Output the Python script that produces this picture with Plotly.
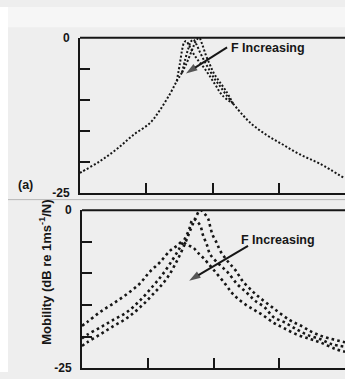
import plotly.graph_objects as go

# ---------------- data ----------------
# Panel (a): mobility (dB) versus frequency (axis divisions), three force levels.
# Low- and high-frequency portions coincide for all force levels.
a_left_x = [0.0, 0.03, 0.30, 0.56, 0.80, 1.06, 1.21, 1.36, 1.46, 1.54]
a_left_db = [-21.8, -21.6, -19.9, -17.9, -15.7, -13.7, -11.6, -9.0, -7.0, -5.6]
a_right_x = [2.31, 2.57, 2.82, 3.06, 3.32, 3.62, 4.0]
a_right_db = [-10.6, -13.7, -15.7, -17.2, -18.8, -20.3, -22.7]

# resonance region, smallest to largest force
a_peak_x = [
    [1.54, 1.60, 1.66, 1.72, 1.77, 1.80, 1.84, 1.90, 1.96, 2.02, 2.10, 2.20, 2.31],
    [1.54, 1.585, 1.63, 1.675, 1.71, 1.75, 1.81, 1.89, 1.96, 2.03, 2.10, 2.20, 2.31],
    [1.46, 1.51, 1.54, 1.57, 1.60, 1.645, 1.71, 1.78, 1.87, 1.96, 2.05, 2.15, 2.31],
]
a_peak_db = [
    [-5.6, -4.3, -2.8, -1.2, -0.2, 0.0, -0.9, -2.8, -4.3, -5.7, -7.0, -8.5, -10.6],
    [-5.6, -3.6, -1.9, -0.6, -0.3, -0.9, -2.3, -4.0, -5.3, -6.6, -7.6, -9.1, -10.6],
    [-7.0, -4.0, -2.0, -0.8, -0.5, -1.2, -2.5, -3.6, -4.8, -6.2, -7.7, -9.3, -10.6],
]

# Panel (b): mobility (dB) versus frequency, three force levels (small -> large)
b_x = [
    [0.0, 0.08, 0.27, 0.47, 0.68, 0.88, 1.08, 1.29, 1.45, 1.57, 1.64, 1.72, 1.80,
     1.86, 1.92, 1.95, 1.99, 2.05, 2.10, 2.18, 2.25, 2.33, 2.45, 2.59, 2.71, 2.91,
     3.16, 3.35, 3.51, 3.70, 4.0],
    [0.0, 0.08, 0.27, 0.47, 0.68, 0.88, 1.08, 1.23, 1.38, 1.49, 1.57, 1.63, 1.67,
     1.70, 1.75, 1.80, 1.84, 1.90, 1.95, 2.10, 2.21, 2.36, 2.51, 2.63, 2.78, 2.91,
     3.09, 3.27, 3.42, 3.62, 3.80, 4.0],
    [0.0, 0.08, 0.27, 0.47, 0.68, 0.88, 1.03, 1.19, 1.34, 1.45, 1.52, 1.60, 1.69,
     1.76, 1.84, 1.99, 2.18, 2.28, 2.37, 2.51, 2.63, 2.75, 2.91, 3.06, 3.27, 3.47,
     3.62, 3.85, 4.0],
]
b_db = [
    [-21.5, -20.9, -19.7, -18.4, -17.1, -15.4, -13.3, -10.8, -7.9, -5.2, -3.35,
     -1.4, 0.0, -0.5, -1.4, -2.6, -4.0, -5.2, -6.4, -7.6, -8.5, -9.45, -11.3,
     -12.8, -13.9, -15.5, -17.4, -18.4, -19.35, -20.1, -20.9],
    [-20.3, -19.7, -18.6, -17.4, -16.15, -14.3, -12.0, -10.1, -7.8, -5.9, -4.4,
     -3.05, -1.7, -1.4, -1.8, -2.45, -3.95, -5.5, -7.0, -8.7, -9.75, -11.7,
     -13.1, -14.3, -15.4, -16.9, -17.8, -18.9, -19.7, -20.4, -21.2, -21.6],
    [-18.3, -17.7, -16.15, -14.8, -13.3, -11.6, -9.75, -8.2, -6.4, -5.6, -5.0,
     -5.5, -5.9, -6.7, -7.5, -9.3, -11.7, -13.1, -14.0, -15.1, -15.85, -16.6,
     -17.8, -18.6, -19.7, -20.4, -20.9, -21.95, -22.4],
]

# "F Increasing" arrows: (tail, head) in axis units
arrow_a_x = [2.22, 1.60]
arrow_a_db = [-1.55, -5.75]
arrow_b_x = [2.525, 1.63]
arrow_b_db = [-5.64, -11.15]

y_label_vals = [0, -25]
y_label_text = ["0", "-25"]
y_minor_vals = [-5, -10, -15, -20]
x_tickvals = [1, 2, 3]

ink = "#161616"
paper = "#eeeeee"
font_family = "Liberation Sans, Arial, sans-serif"

fig = go.Figure()

dot_a = dict(color=ink, width=2, dash="2px,2px")
dot_b = dict(color=ink, width=2.6, dash="2.6px,3.2px")

fig.add_trace(go.Scatter(x=a_left_x, y=a_left_db, mode="lines", line=dot_a,
                         line_shape="spline", xaxis="x", yaxis="y", hoverinfo="skip"))
fig.add_trace(go.Scatter(x=a_right_x, y=a_right_db, mode="lines", line=dot_a,
                         line_shape="spline", xaxis="x", yaxis="y", hoverinfo="skip"))
for px, py in zip(a_peak_x, a_peak_db):
    fig.add_trace(go.Scatter(x=px, y=py, mode="lines", line=dot_a,
                             line_shape="spline", xaxis="x", yaxis="y", hoverinfo="skip"))

for px, py in zip(b_x, b_db):
    fig.add_trace(go.Scatter(x=px, y=py, mode="lines", line=dot_b,
                             line_shape="spline", xaxis="x2", yaxis="y2", hoverinfo="skip"))

# arrows drawn as a solid line with an arrow-shaped marker at the head
for ax_x, ax_y, xa, ya in [(arrow_a_x, arrow_a_db, "x", "y"),
                           (arrow_b_x, arrow_b_db, "x2", "y2")]:
    fig.add_trace(go.Scatter(
        x=ax_x, y=ax_y, mode="lines+markers", xaxis=xa, yaxis=ya,
        line=dict(color=ink, width=2),
        marker=dict(symbol="arrow", angleref="previous", size=[0, 12], color=ink,
                    line=dict(width=0)),
        hoverinfo="skip"))

W, H = 345, 379


def xp(px):
    return px / W


def yp(py):
    return 1 - py / H


axis_common = dict(showgrid=False, zeroline=False, showline=True, linecolor=ink,
                   linewidth=2, ticks="inside", ticklen=10, tickwidth=2,
                   tickcolor=ink)
y_common = dict(range=[-25, 0], tickvals=y_label_vals, ticktext=y_label_text,
                ticklabelstandoff=6,
                tickfont=dict(size=12, family=font_family, weight="bold"),
                minor=dict(tickvals=y_minor_vals, ticks="inside", ticklen=10,
                           tickwidth=2, tickcolor=ink, showgrid=False),
                **axis_common)

fig.update_layout(
    width=W, height=H,
    margin=dict(l=0, r=0, t=0, b=0),
    paper_bgcolor=paper, plot_bgcolor=paper,
    showlegend=False,
    font=dict(family=font_family, color=ink, size=12),
    xaxis=dict(domain=[xp(80), 1.0], range=[0, 4], tickvals=x_tickvals,
               showticklabels=False, anchor="y", **axis_common),
    yaxis=dict(domain=[yp(193), yp(32)], anchor="x", **y_common),
    xaxis2=dict(domain=[xp(82), 1.0], range=[0, 4], tickvals=x_tickvals,
                showticklabels=False, anchor="y2", **axis_common),
    yaxis2=dict(domain=[yp(375), yp(211)], anchor="x2", **y_common),
)

# top borders of both frames
fig.add_shape(type="line", xref="x domain", yref="y domain", x0=0, x1=1, y0=1, y1=1,
              line=dict(color=ink, width=2))
fig.add_shape(type="line", xref="x2 domain", yref="y2 domain", x0=0, x1=1, y0=1, y1=1,
              line=dict(color=ink, width=2))
# page edge, running-head strip and fold between the panels
fig.add_shape(type="rect", xref="paper", yref="paper", x0=xp(8), x1=1, y0=yp(21), y1=1,
              fillcolor="#f6f6f6", line=dict(width=0), layer="below")
fig.add_shape(type="rect", xref="paper", yref="paper", x0=0, x1=xp(8), y0=0, y1=1,
              fillcolor="white", line=dict(width=0), layer="below")
fig.add_shape(type="line", xref="paper", yref="paper", x0=xp(8), x1=1, y0=yp(200), y1=yp(200),
              line=dict(color="#b8b8b8", width=1), layer="below")

label_font = dict(family=font_family, size=12.5, color=ink, weight="bold")
fig.add_annotation(x=xp(229), y=yp(43), xref="paper", yref="paper", text="F Increasing",
                   showarrow=False, xanchor="left", yanchor="middle", font=label_font)
fig.add_annotation(x=xp(239), y=yp(242), xref="paper", yref="paper", text="F Increasing",
                   showarrow=False, xanchor="left", yanchor="middle", font=label_font)
fig.add_annotation(x=xp(16), y=yp(185), xref="paper", yref="paper", text="(a)",
                   showarrow=False, xanchor="left", yanchor="middle", font=label_font)
fig.add_annotation(x=xp(45), y=yp(276), xref="paper", yref="paper",
                   text="Mobility (dB re 1ms<sup>-1</sup>/N)", textangle=-90,
                   showarrow=False, xanchor="center", yanchor="middle",
                   font=dict(family=font_family, size=13, color=ink, weight="bold"))

fig.write_html("out.html")
